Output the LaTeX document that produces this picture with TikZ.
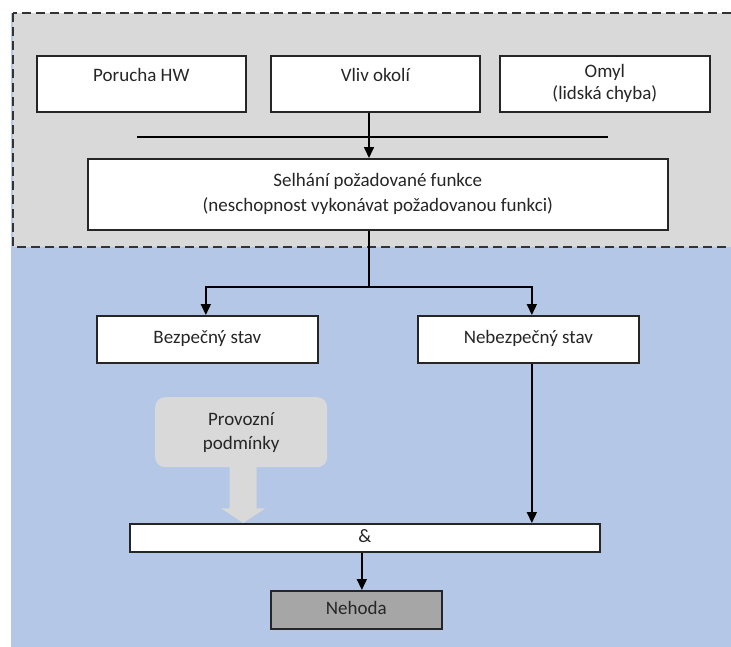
\documentclass[tikz,border=0pt]{standalone}
\usepackage{fontspec}
\setmainfont{Carlito}
\usetikzlibrary{arrows.meta,calc}
\definecolor{zoneblue}{HTML}{B4C7E7}
\definecolor{zonegray}{HTML}{D9D9D9}
\definecolor{accgray}{HTML}{A6A6A6}
\definecolor{ink}{HTML}{262626}
\begin{document}
\begin{tikzpicture}[x=1pt,y=-1pt,
  every node/.style={font=\fontsize{19}{22}\selectfont, text=ink},
  box/.style={draw=ink, line width=1.7pt, fill=white, inner sep=0pt,
              anchor=north west, align=center},
  topbox/.style={box, text height=12pt, text depth=16pt},
  onebox/.style={box, text height=13pt, text depth=4pt},
  arr/.style={draw=black, line width=1.6pt, -{Triangle[width=10pt,length=11pt]}},
  wire/.style={draw=black, line width=1.6pt}]
\useasboundingbox (0,0) rectangle (731,646);

% background zones
\fill[zoneblue] (11,13) rectangle (735,650);
\draw[fill=zonegray, draw=black!80, line width=2.2pt, dash pattern=on 9pt off 5pt]
  (13,13) rectangle (740,247);

% causes
\node[topbox, minimum width=209pt, minimum height=56pt] (por) at (36,55) {Porucha HW};
\node[topbox, minimum width=209pt, minimum height=56pt] (vliv) at (270,55) {Vliv okolí};
\node[box, minimum width=210pt, minimum height=56pt] (omyl) at (499,55) {Omyl\\(lidská chyba)};

% collecting bar
\coordinate (busL) at (137,137);
\coordinate (busR) at (608,137);
\draw[wire] (busL) -- (busR);

% failure of the required function
\node[box, minimum width=580pt, minimum height=71pt] (sel) at (87,158)
  {Selhání požadované funkce\\[3pt](neschopnost vykonávat požadovanou funkci)};

% resulting states
\node[onebox, minimum width=221pt, minimum height=47pt] (bez) at (96,315) {Bezpečný stav};
\node[onebox, minimum width=221pt, minimum height=47pt] (neb) at (417,315) {Nebezpečný stav};

% operating conditions with block arrow
\node[anchor=north west, fill=zonegray, rounded corners=10pt, inner sep=0pt,
      minimum width=172pt, minimum height=70pt, align=center] (prov) at (155,397)
  {Provozní\\[2pt]podmínky};

% AND gate bar and accident
\node[onebox, minimum width=470pt, minimum height=28pt] (and) at (129,523) {\&};
\node[onebox, fill=accgray, minimum width=171pt, minimum height=38pt] (neh) at (270,590) {Nehoda};

\fill[zonegray]
  ($(prov.south)+(-11.5,-1)$) -- ($(prov.south)+(-11.5,41)$) --
  ($(prov.south)+(-20,41)$) -- ($(prov.south |- and.north)+(2,0)$) --
  ($(prov.south)+(24,41)$) -- ($(prov.south)+(15.5,41)$) --
  ($(prov.south)+(15.5,-1)$) -- cycle;

% connectors
\draw[arr] (vliv.south -| 369,0) -- (sel.north -| 369,0);
\draw[wire] (sel.south -| 369,0) -- (369,287) coordinate (split);
\draw[arr] (split) -| ([xshift=-1.5pt]bez.north);
\draw[arr] (split) -| ([xshift=3.5pt]neb.north);
\draw[arr] ([xshift=3.5pt]neb.south) -- ([xshift=3.5pt]neb.south |- and.north);
\draw[arr] ([xshift=-3pt]and.south) -- ([xshift=-3pt]and.south |- neh.north);
\end{tikzpicture}
\end{document}
